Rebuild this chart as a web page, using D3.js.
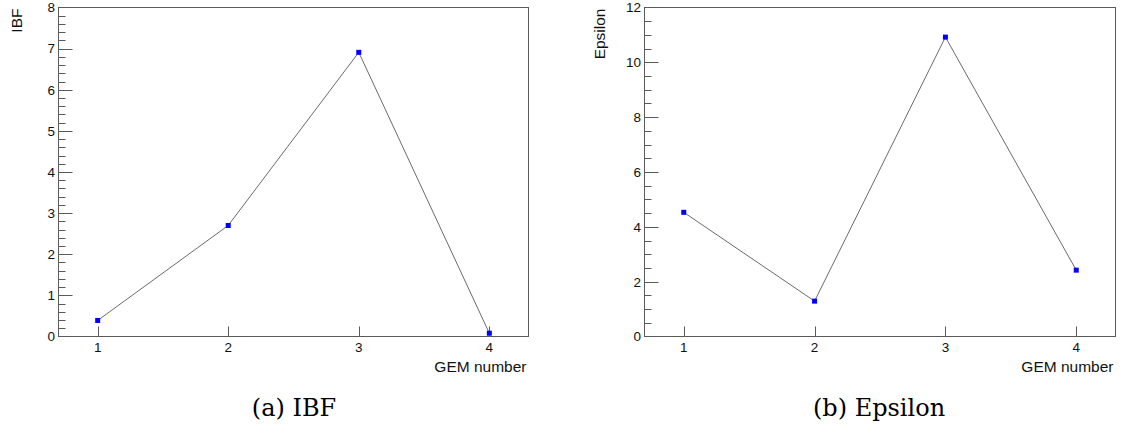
<!DOCTYPE html>
<html>
<head>
<meta charset="utf-8">
<script src="https://cdn.jsdelivr.net/npm/d3@7"></script>
<style>
  body { margin: 0; background: #fff; }
  svg { display: block; }
</style>
</head>
<body>
<svg id="chart" width="1121" height="425"></svg>
<script>
// values
const gemNumbers = [1, 2, 3, 4];
const ibfValues = [0.39, 2.70, 6.91, 0.08];
const epsilonValues = [4.53, 1.29, 10.92, 2.42];

const ibfTicks = [0, 1, 2, 3, 4, 5, 6, 7, 8];
const epsilonTicks = [0, 2, 4, 6, 8, 10, 12];
const xTicks = [1, 2, 3, 4];

const sans = '"Liberation Sans", Arial, Helvetica, sans-serif';
const serif = '"DejaVu Serif", "Liberation Serif", serif';

const svg = d3.select('#chart');

function draw_panel(panel) {
    let g = svg.append('g');
    let frame_color = '#5a5a5a';

    let x = d3.scaleLinear().domain([0.7, 4.3]).range([panel.left, panel.right]);
    let y = d3.scaleLinear().domain(panel.yDomain).range([panel.bottom, panel.top]);

    // frame
    g.append('rect')
        .attr('x', panel.left)
        .attr('y', panel.top)
        .attr('width', panel.right - panel.left)
        .attr('height', panel.bottom - panel.top)
        .attr('fill', 'none')
        .attr('stroke', frame_color)
        .attr('stroke-width', 1);

    // y minor ticks
    let minor = [];
    let yMax = panel.yDomain[1];
    for (let i = 0; i * panel.minorStep < yMax - 1e-9; i++) {
        let v = +(i * panel.minorStep).toFixed(4);
        if (!panel.yTicks.includes(v)) minor.push(v);
    }
    g.append('g').selectAll('line')
        .data(minor)
        .join('line')
        .attr('x1', panel.left)
        .attr('x2', panel.left + 7)
        .attr('y1', d => Math.round(y(d)) + 0.5)
        .attr('y2', d => Math.round(y(d)) + 0.5)
        .attr('stroke', frame_color)
        .attr('stroke-width', 1);

    // y major ticks + labels
    g.append('g').selectAll('line')
        .data(panel.yTicks.filter(d => d > 0 && d < yMax))
        .join('line')
        .attr('x1', panel.left)
        .attr('x2', panel.left + 14)
        .attr('y1', d => Math.round(y(d)) + 0.5)
        .attr('y2', d => Math.round(y(d)) + 0.5)
        .attr('stroke', frame_color)
        .attr('stroke-width', 1);

    g.append('g').selectAll('text')
        .data(panel.yTicks)
        .join('text')
        .attr('x', panel.left - 3.5)
        .attr('y', d => y(d))
        .attr('dy', '0.36em')
        .attr('text-anchor', 'end')
        .attr('font-family', sans)
        .attr('font-size', '13.5px')
        .attr('fill', '#111')
        .text(d => d);

    // x ticks + labels
    g.append('g').selectAll('line')
        .data(xTicks)
        .join('line')
        .attr('x1', d => Math.round(x(d)) + 0.5)
        .attr('x2', d => Math.round(x(d)) + 0.5)
        .attr('y1', panel.bottom)
        .attr('y2', panel.bottom - 10)
        .attr('stroke', frame_color)
        .attr('stroke-width', 1);

    g.append('g').selectAll('text')
        .data(xTicks)
        .join('text')
        .attr('x', d => x(d))
        .attr('y', panel.bottom + 15)
        .attr('text-anchor', 'middle')
        .attr('font-family', sans)
        .attr('font-size', '13.5px')
        .attr('fill', '#111')
        .text(d => d);

    // axis titles
    g.append('text')
        .attr('x', panel.right - 2)
        .attr('y', panel.bottom + 35)
        .attr('text-anchor', 'end')
        .attr('font-family', sans)
        .attr('font-size', '15.5px')
        .attr('fill', '#111')
        .text('GEM number');

    g.append('text')
        .attr('transform', 'translate(' + panel.yTitleX + ',' + (panel.top + 1) + ') rotate(-90)')
        .attr('text-anchor', 'end')
        .attr('font-family', sans)
        .attr('font-size', '15.5px')
        .attr('fill', '#111')
        .text(panel.yTitle);

    // graph line
    let pts = gemNumbers.map((d, i) => [d, panel.values[i]]);
    let line = d3.line().x(d => x(d[0])).y(d => y(d[1]));
    g.append('path')
        .datum(pts)
        .attr('d', line)
        .attr('fill', 'none')
        .attr('stroke', '#444')
        .attr('stroke-width', 0.8);

    // markers
    g.append('g').selectAll('rect')
        .data(pts)
        .join('rect')
        .attr('x', d => x(d[0]) - 2.5)
        .attr('y', d => y(d[1]) - 2.5)
        .attr('width', 5)
        .attr('height', 5)
        .attr('fill', '#0000ff');

    // caption
    svg.append('text')
        .attr('x', panel.captionX)
        .attr('y', 416)
        .attr('text-anchor', 'middle')
        .attr('font-family', serif)
        .attr('font-size', '24px')
        .attr('fill', '#000')
        .text(panel.caption);
}

draw_panel({
    left: 58.5, right: 528.5, top: 7.5, bottom: 336.5,
    yDomain: [0, 8], yTicks: ibfTicks, minorStep: 0.2,
    values: ibfValues, yTitle: 'IBF', yTitleX: 22,
    caption: '(a) IBF', captionX: 294
});

draw_panel({
    left: 644.5, right: 1115.5, top: 7.5, bottom: 336.5,
    yDomain: [0, 12], yTicks: epsilonTicks, minorStep: 0.5,
    values: epsilonValues, yTitle: 'Epsilon', yTitleX: 605,
    caption: '(b) Epsilon', captionX: 879
});
</script>
</body>
</html>
